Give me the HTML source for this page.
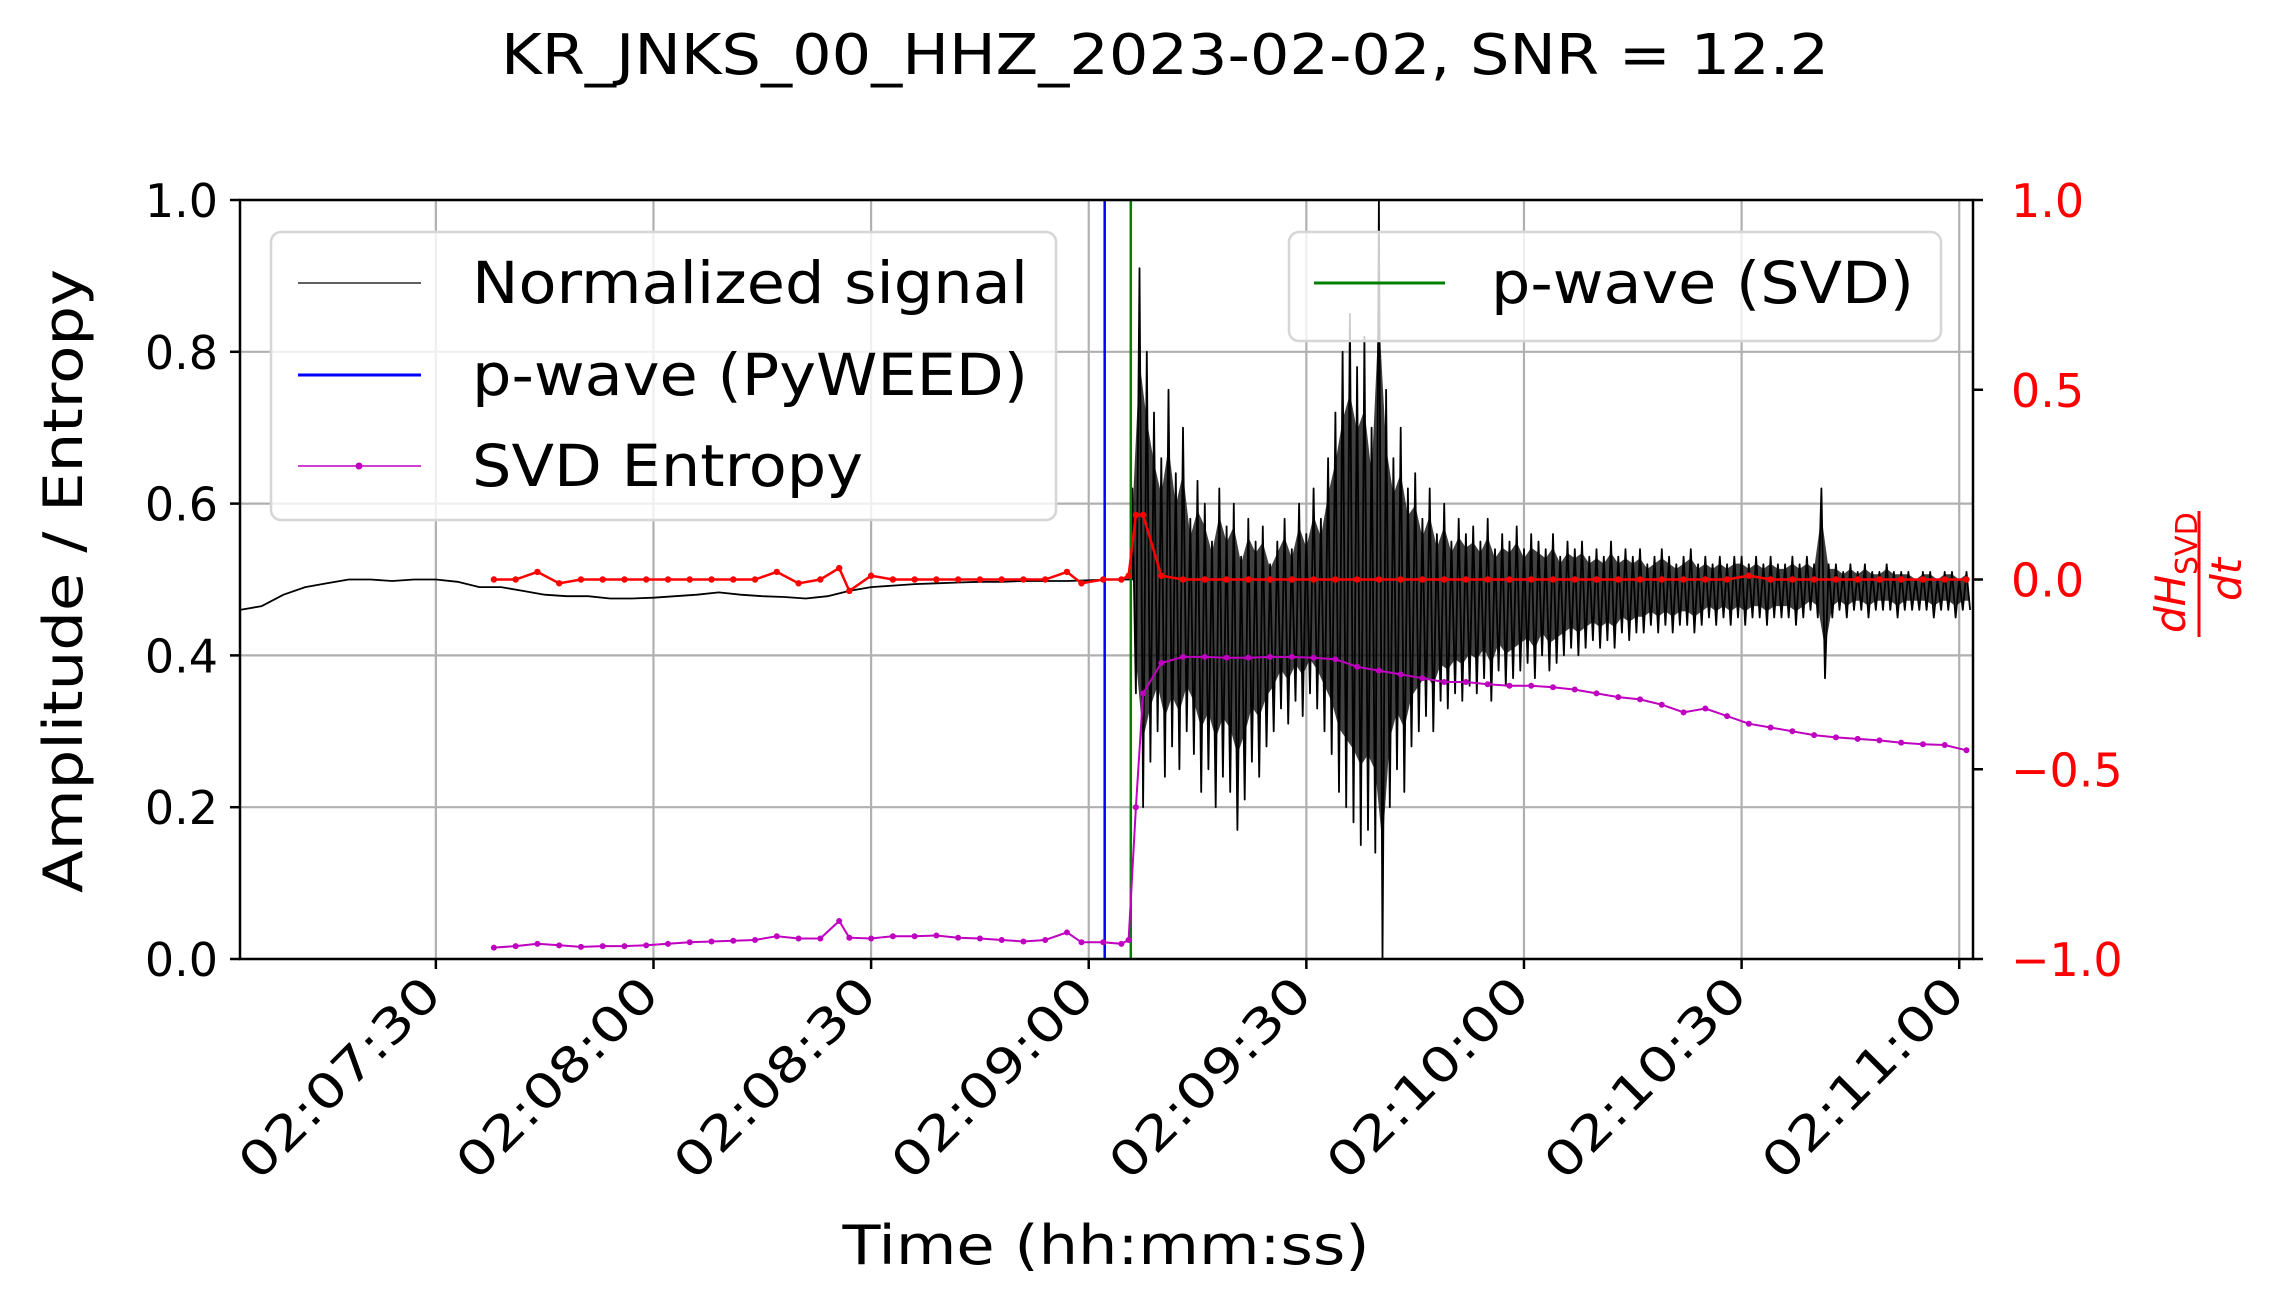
<!DOCTYPE html>
<html><head><meta charset="utf-8"><style>
html,body{margin:0;padding:0;background:#fff;}
svg{display:block;font-family:"DejaVu Sans","Liberation Sans",sans-serif;}
</style></head><body>
<svg id="chart" width="2277" height="1302" viewBox="0 0 2277 1302" xmlns="http://www.w3.org/2000/svg">
<text x="1165" y="74" font-size="56" text-anchor="middle" textLength="1328" lengthAdjust="spacingAndGlyphs">KR_JNKS_00_HHZ_2023-02-02, SNR = 12.2</text>
<g id="grid"></g>
<g id="series"></g>
<g id="axes"></g>
<text transform="translate(82,581) rotate(-90)" font-size="54" text-anchor="middle" textLength="624" lengthAdjust="spacingAndGlyphs">Amplitude / Entropy</text>
<text x="1106" y="1264" font-size="54" text-anchor="middle" textLength="527" lengthAdjust="spacingAndGlyphs">Time (hh:mm:ss)</text>
<g transform="translate(2195,581) rotate(-90)" fill="#ff0000">
  <text x="-52" y="-10" font-size="42" font-style="italic">dH</text>
  <text x="6" y="2" font-size="30">SVD</text>
  <line x1="-56" y1="4" x2="70" y2="4" stroke="#ff0000" stroke-width="3"/>
  <text x="-20" y="46" font-size="42" font-style="italic">dt</text>
</g>
<g id="legend"></g>
</svg>
<script>
// ---- data ----
const xTickTimes = [30, 60, 90, 120, 150, 180, 210, 240];
const xTickLabels = ["02:07:30","02:08:00","02:08:30","02:09:00","02:09:30","02:10:00","02:10:30","02:11:00"];
const yTicks = [0, 0.2, 0.4, 0.6, 0.8, 1.0];
const yTickLabels = ["0.0","0.2","0.4","0.6","0.8","1.0"];
const y2Ticks = [-1, -0.5, 0, 0.5, 1];
const y2TickLabels = ["\u22121.0","\u22120.5","0.0","0.5","1.0"];
const pickPyweed = 122.2;
const pickSvd = 125.8;
const preT = [3,6,9,12,15,18,21,24,27,30,33,36,39,42,45,48,51,54,57,60,63,66,69,72,75,78,81,84,87,90,93,96,99,102,105,108,111,114,117,120,123,126];
const preV = [0.46,0.465,0.48,0.49,0.495,0.5,0.5,0.498,0.5,0.5,0.497,0.49,0.49,0.485,0.48,0.478,0.478,0.475,0.475,0.476,0.478,0.48,0.483,0.48,0.478,0.477,0.475,0.478,0.485,0.49,0.492,0.494,0.495,0.496,0.497,0.497,0.498,0.498,0.498,0.499,0.5,0.5];
const sigStart = 126;
const sigHi = [0.62,0.91,0.80,0.72,0.66,0.75,0.64,0.70,0.58,0.63,
0.60,0.55,0.62,0.57,0.60,0.53,0.58,0.55,0.57,0.52,
0.55,0.58,0.54,0.60,0.56,0.62,0.58,0.66,0.72,0.80,
0.85,0.78,0.82,0.70,1.0,0.75,0.66,0.70,0.62,0.64,
0.58,0.62,0.56,0.60,0.55,0.58,0.56,0.57,0.55,0.58,
0.54,0.56,0.55,0.57,0.54,0.56,0.55,0.54,0.56,0.53,
0.55,0.54,0.55,0.53,0.54,0.53,0.55,0.53,0.54,0.53,
0.54,0.52,0.53,0.54,0.53,0.52,0.53,0.54,0.52,0.53,
0.52,0.53,0.52,0.53,0.53,0.52,0.53,0.52,0.53,0.52,
0.52,0.53,0.52,0.53,0.52,0.62,0.52,0.52,0.51,0.52,
0.51,0.52,0.51,0.51,0.52,0.51,0.51,0.51,0.50,0.51,
0.51,0.50,0.51,0.51,0.50,0.51];
const sigLo = [0.35,0.20,0.26,0.30,0.24,0.28,0.25,0.30,0.27,0.22,
0.25,0.20,0.24,0.22,0.17,0.21,0.26,0.24,0.28,0.30,
0.33,0.31,0.34,0.32,0.35,0.33,0.30,0.27,0.22,0.20,
0.18,0.15,0.17,0.14,0.0,0.20,0.25,0.22,0.28,0.30,
0.32,0.30,0.34,0.33,0.35,0.34,0.36,0.35,0.37,0.34,
0.38,0.36,0.37,0.38,0.39,0.37,0.40,0.38,0.39,0.40,
0.41,0.40,0.41,0.42,0.41,0.42,0.41,0.43,0.42,0.43,
0.43,0.44,0.43,0.44,0.43,0.44,0.44,0.43,0.44,0.45,
0.44,0.45,0.44,0.45,0.44,0.45,0.45,0.44,0.45,0.45,
0.45,0.44,0.45,0.46,0.45,0.37,0.45,0.46,0.45,0.46,
0.46,0.45,0.46,0.46,0.46,0.45,0.46,0.46,0.46,0.46,
0.45,0.46,0.46,0.45,0.46,0.46];
const entT = [38,41,44,47,50,53,56,59,62,65,68,71,74,77,80,83,85.6,87,90,93,96,99,102,105,108,111,114,117,119,122,124.5,125.5,126.5,127.5,130,133,136,139,142,145,148,151,154,157,160,163,166,169,172,175,178,181,184,187,190,193,196,199,202,205,208,211,214,217,220,223,226,229,232,235,238,241];
const entV = [0.015,0.017,0.02,0.018,0.016,0.017,0.017,0.018,0.02,0.022,0.023,0.024,0.025,0.03,0.027,0.027,0.05,0.028,0.027,0.03,0.03,0.031,0.028,0.027,0.025,0.023,0.025,0.035,0.022,0.022,0.02,0.025,0.2,0.35,0.39,0.398,0.398,0.397,0.397,0.398,0.398,0.397,0.395,0.385,0.38,0.375,0.37,0.365,0.365,0.362,0.36,0.36,0.358,0.355,0.35,0.345,0.342,0.335,0.325,0.33,0.32,0.31,0.305,0.3,0.295,0.292,0.29,0.288,0.285,0.283,0.282,0.275,0.27];
const derT = [38,41,44,47,50,53,56,59,62,65,68,71,74,77,80,83,85.6,87,90,93,96,99,102,105,108,111,114,117,119,122,124.5,125.5,126.5,127.5,130,133,136,139,142,145,148,151,154,157,160,163,166,169,172,175,178,181,184,187,190,193,196,199,202,205,208,211,214,217,220,223,226,229,232,235,238,241];
const derV = [0,0,0.02,-0.01,0,0,0,0,0,0,0,0,0,0.02,-0.01,0,0.03,-0.03,0.01,0,0,0,0,0,0,0,0,0.02,-0.01,0,0,0.01,0.17,0.17,0.01,0,0,0,0,0,0,0,0,0,0,0,0,0,0,0,0,0,0,0,0,0,0,0,0,0,0,0.01,0,0,0,0,0,0,0,0,0,0];

// ---- scales ----
const L=240,R=1973,T=200,B=959, T0=3, T1=241.9;
const xs=t=>L+(t-T0)/(T1-T0)*(R-L);
const ys=v=>B-v*(B-T);
const y2s=v=>B-(v+1)/2*(B-T);
const NS="http://www.w3.org/2000/svg";
function mk(tag,attrs,parent){const e=document.createElementNS(NS,tag);for(const k in attrs)e.setAttribute(k,attrs[k]);parent.appendChild(e);return e;}
const grid=document.getElementById('grid'),series=document.getElementById('series'),axes=document.getElementById('axes'),legend=document.getElementById('legend');

// grid
xTickTimes.forEach(t=>{const g=mk('line',{x1:xs(t),x2:xs(t),y1:T,y2:B,stroke:'#b0b0b0','stroke-width':2.2},grid);

});
yTicks.forEach(v=>{const g=mk('line',{x1:L,x2:R,y1:ys(v),y2:ys(v),stroke:'#b0b0b0','stroke-width':2.2},grid);

});

// signal envelope fill (dense trace appearance)
let env='';
sigHi.forEach((h,i)=>{const t=sigStart+i;env+=(i?'L':'M')+xs(t).toFixed(1)+','+ys(0.5+(h-0.5)*0.7).toFixed(1);});
for(let i=sigLo.length-1;i>=0;i--){const t=sigStart+i+0.5;env+='L'+xs(t).toFixed(1)+','+ys(0.5+(sigLo[i]-0.5)*0.7).toFixed(1);}
env+='Z';
const envp=mk('path',{d:env,fill:'#000','fill-opacity':0.75,stroke:'none'},series);



// signal
let d='';
preT.forEach((t,i)=>{d+=(i?'L':'M')+xs(t).toFixed(1)+','+ys(preV[i]).toFixed(1);});
sigHi.forEach((h,i)=>{const t=sigStart+i;d+='L'+xs(t).toFixed(1)+','+ys(h).toFixed(1)+'L'+xs(t+0.5).toFixed(1)+','+ys(sigLo[i]).toFixed(1);});
const sig=mk('path',{d:d,fill:'none',stroke:'#000','stroke-width':1.8,'stroke-linejoin':'round'},series);



// vertical picks
const pw=mk('line',{x1:xs(pickPyweed),x2:xs(pickPyweed),y1:T,y2:B,stroke:'#0000ff','stroke-width':2.5},series);


const ps=mk('line',{x1:xs(pickSvd),x2:xs(pickSvd),y1:T,y2:B,stroke:'#008000','stroke-width':2.5},series);



// entropy
const ent=mk('polyline',{points:entT.map((t,i)=>xs(t).toFixed(1)+','+ys(entV[i]).toFixed(1)).join(' '),fill:'none',stroke:'#c000c0','stroke-width':2},series);


entT.forEach((t,i)=>{const c=mk('circle',{cx:xs(t),cy:ys(entV[i]),r:3,fill:'#c000c0'},series);

});

// derivative (right axis)
const der=mk('polyline',{points:derT.map((t,i)=>xs(t).toFixed(1)+','+y2s(derV[i]).toFixed(1)).join(' '),fill:'none',stroke:'#ff0000','stroke-width':2.5},series);


derT.forEach((t,i)=>{const c=mk('circle',{cx:xs(t),cy:y2s(derV[i]),r:3.2,fill:'#ff0000'},series);

});

// axes frame
const fr=mk('rect',{x:L,y:T,width:R-L,height:B-T,fill:'none',stroke:'#000','stroke-width':2.5},axes);


yTicks.forEach((v,i)=>{
 mk('line',{x1:L-10,x2:L,y1:ys(v),y2:ys(v),stroke:'#000','stroke-width':2.5},axes);
 const tx=mk('text',{x:L-22,y:ys(v)+17,'font-size':46,'text-anchor':'end'},axes);tx.textContent=yTickLabels[i];
 
 
});
y2Ticks.forEach((v,i)=>{
 mk('line',{x1:R,x2:R+10,y1:y2s(v),y2:y2s(v),stroke:'#000','stroke-width':2.5},axes);
 const tx=mk('text',{x:R+38,y:y2s(v)+17,'font-size':46,fill:'#ff0000'},axes);tx.textContent=y2TickLabels[i];
 
 
});
xTickTimes.forEach((t,i)=>{
 mk('line',{x1:xs(t),x2:xs(t),y1:B,y2:B+10,stroke:'#000','stroke-width':2.5},axes);
 const tx=mk('text',{transform:`translate(${xs(t)+8},${B+38}) rotate(-45)`,'font-size':48,'text-anchor':'end',textLength:262,lengthAdjust:'spacingAndGlyphs'},axes);tx.textContent=xTickLabels[i];
 
 
});

// legends
const lb1=mk('rect',{x:271,y:232,width:785,height:288,rx:10,fill:'#fff','fill-opacity':0.8,stroke:'#d6d6d6','stroke-width':2.5},legend);


const entries=[["Normalized signal","#000",1.2,283,false,556],["p-wave (PyWEED)","#0000ff",3,375,false,556],["SVD Entropy","#c000c0",1.5,466,true,391]];
entries.forEach(e=>{
 mk('line',{x1:298,x2:421,y1:e[3],y2:e[3],stroke:e[1],'stroke-width':e[2]},legend);
 if(e[4])mk('circle',{cx:359,cy:e[3],r:3.5,fill:e[1]},legend);
 const tx=mk('text',{x:472,y:e[3]+20,'font-size':58,textLength:e[5],lengthAdjust:'spacingAndGlyphs'},legend);tx.textContent=e[0];
 
 
});
const lb2=mk('rect',{x:1289,y:232,width:652,height:109,rx:10,fill:'#fff','fill-opacity':0.8,stroke:'#d6d6d6','stroke-width':2.5},legend);


mk('line',{x1:1314,x2:1445,y1:283,y2:283,stroke:'#008000','stroke-width':3},legend);
const t2=mk('text',{x:1491,y:303,'font-size':58,textLength:423,lengthAdjust:'spacingAndGlyphs'},legend);t2.textContent="p-wave (SVD)";


</script>
</body></html>
